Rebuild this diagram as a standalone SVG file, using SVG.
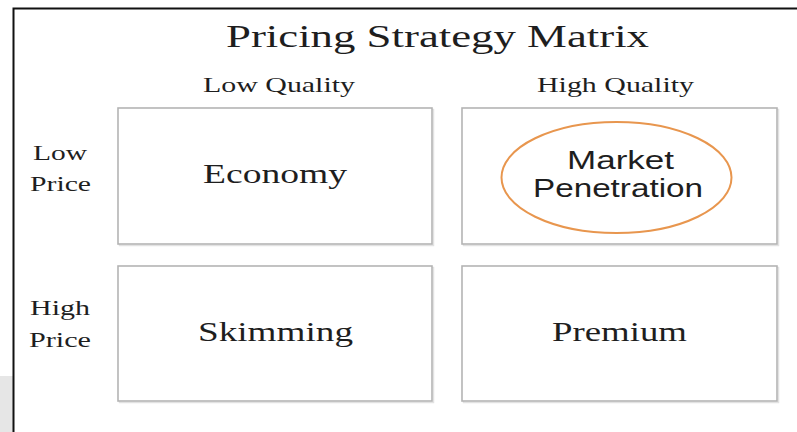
<svg xmlns="http://www.w3.org/2000/svg" width="797" height="432" viewBox="0 0 797 432">
  <style>
    .serif { font-family: "Liberation Serif", "Times New Roman", serif; fill: #1e1e1e; }
    .sans { font-family: "Liberation Sans", Arial, sans-serif; fill: #1e1e1e; }
    .cell { fill: #ffffff; stroke: #b4b4b4; stroke-width: 1.6; }
    .shadow { fill: none; stroke: #e2e2e2; stroke-width: 1.5; }
  </style>
  <!-- page background and frame -->
  <rect x="0" y="0" width="797" height="432" fill="#ffffff"/>
  <rect x="0" y="376" width="13" height="56" fill="#e6e6e6"/>
  <path d="M13.5 432 V8.5 H797" fill="none" stroke="#111" stroke-width="2"/>

  <!-- title and axis labels -->
  <text class="serif" x="226" y="47" font-size="32" textLength="423" lengthAdjust="spacingAndGlyphs">Pricing Strategy Matrix</text>
  <text class="serif" x="203" y="92" font-size="22" textLength="152" lengthAdjust="spacingAndGlyphs">Low Quality</text>
  <text class="serif" x="537" y="92" font-size="22" textLength="157" lengthAdjust="spacingAndGlyphs">High Quality</text>
  <g id="row-low-price">
    <text class="serif" x="33" y="160" font-size="22" textLength="54" lengthAdjust="spacingAndGlyphs">Low</text>
    <text class="serif" x="30" y="191" font-size="22" textLength="61" lengthAdjust="spacingAndGlyphs">Price</text>
  </g>
  <g id="row-high-price">
    <text class="serif" x="30" y="315" font-size="22" textLength="60" lengthAdjust="spacingAndGlyphs">High</text>
    <text class="serif" x="29" y="347" font-size="22" textLength="62" lengthAdjust="spacingAndGlyphs">Price</text>
  </g>

  <!-- quadrants -->
  <g id="economy">
    <rect class="shadow" x="119.5" y="109.5" width="314" height="136"/>
    <rect class="cell" x="118" y="108" width="314" height="136"/>
    <text class="serif" x="203" y="183" font-size="27" textLength="144" lengthAdjust="spacingAndGlyphs">Economy</text>
  </g>
  <g id="market-penetration">
    <rect class="shadow" x="463.5" y="109.5" width="315" height="136"/>
    <rect class="cell" x="462" y="108" width="315" height="136"/>
    <ellipse cx="616.5" cy="177.5" rx="115" ry="55.5" fill="none" stroke="#E8964E" stroke-width="2"/>
    <text class="sans" x="567" y="169" font-size="25" textLength="107" lengthAdjust="spacingAndGlyphs">Market</text>
    <text class="sans" x="533" y="197" font-size="25" textLength="170" lengthAdjust="spacingAndGlyphs">Penetration</text>
  </g>
  <g id="skimming">
    <rect class="shadow" x="119.5" y="267.5" width="314" height="135"/>
    <rect class="cell" x="118" y="266" width="314" height="135"/>
    <text class="serif" x="198" y="341" font-size="27" textLength="155" lengthAdjust="spacingAndGlyphs">Skimming</text>
  </g>
  <g id="premium">
    <rect class="shadow" x="463.5" y="267.5" width="315" height="135"/>
    <rect class="cell" x="462" y="266" width="315" height="135"/>
    <text class="serif" x="552" y="341" font-size="27" textLength="135" lengthAdjust="spacingAndGlyphs">Premium</text>
  </g>
</svg>
